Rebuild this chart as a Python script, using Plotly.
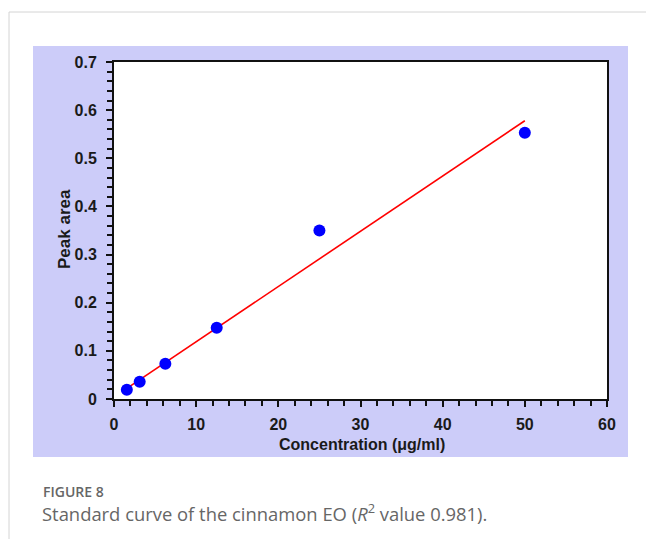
import plotly.graph_objects as go

# Data
conc = [1.5625, 3.125, 6.25, 12.5, 25, 50]
peak_area = [0.019, 0.036, 0.073, 0.148, 0.350, 0.553]
fit_x = [1.5625, 50]
fit_y = [0.022, 0.578]

x_ticks = [0, 10, 20, 30, 40, 50, 60]
x_tick_labels = ["0", "10", "20", "30", "40", "50", "60"]
y_ticks = [0, 0.1, 0.2, 0.3, 0.4, 0.5, 0.6, 0.7]
y_tick_labels = ["0", "0.1", "0.2", "0.3", "0.4", "0.5", "0.6", "0.7"]

W, H = 646, 539
L, R, T, B = 114, 607, 62, 399  # plot area in px


def px(x):
    return (x - L) / (R - L)


def py(y):
    return (B - y) / (B - T)


fig = go.Figure()
fig.add_trace(go.Scatter(x=fit_x, y=fit_y, mode="lines",
                         line=dict(color="#ff0000", width=1.6),
                         showlegend=False, hoverinfo="skip"))
fig.add_trace(go.Scatter(x=conc, y=peak_area, mode="markers",
                         marker=dict(color="#0000ff", size=12),
                         showlegend=False))

tickfont = dict(family="Liberation Sans, Arial, sans-serif", size=16,
                color="#1a1a1a", weight="bold")

fig.update_layout(
    width=W, height=H,
    margin=dict(l=L, r=W - R, t=T, b=H - B),
    paper_bgcolor="white",
    plot_bgcolor="white",
    xaxis=dict(range=[0, 60], tickvals=x_ticks, ticktext=x_tick_labels,
               ticks="outside", ticklen=6,
               tickwidth=1.5, tickcolor="#111", showline=True, linecolor="#111",
               linewidth=2, mirror=True, showgrid=False, zeroline=False,
               tickfont=tickfont, ticklabelstandoff=4,
               minor=dict(dtick=2, ticks="outside", ticklen=5, tickwidth=1.5,
                          tickcolor="#111", showgrid=False)),
    yaxis=dict(range=[0, 0.7], tickvals=y_ticks, ticktext=y_tick_labels,
               ticks="outside", ticklen=6, tickwidth=1.5, tickcolor="#111",
               showline=True, linecolor="#111", linewidth=2, mirror=True,
               showgrid=False, zeroline=False, tickfont=tickfont,
               ticklabelstandoff=6,
               minor=dict(dtick=0.02, ticks="outside", ticklen=5, tickwidth=1.5,
                          tickcolor="#111", showgrid=False)),
    shapes=[
        dict(type="rect", xref="paper", yref="paper", layer="below",
             x0=px(33), x1=px(628), y0=py(457), y1=py(46),
             fillcolor="#ccccf9", line=dict(width=0)),
        dict(type="rect", xref="paper", yref="paper", layer="below",
             x0=0, x1=1, y0=0, y1=1, fillcolor="white", line=dict(width=0)),
        dict(type="line", xref="paper", yref="paper",
             x0=px(9), x1=px(646), y0=py(12), y1=py(12),
             line=dict(color="#d4d4d4", width=1)),
        dict(type="line", xref="paper", yref="paper",
             x0=px(9), x1=px(9), y0=py(12), y1=py(539),
             line=dict(color="#d4d4d4", width=1)),
    ],
    annotations=[
        dict(text="<b>Concentration (μg/ml)</b>", xref="paper", yref="paper",
             x=px(362), y=py(444), showarrow=False, xanchor="center", yanchor="middle",
             font=dict(family="Liberation Sans, Arial, sans-serif", size=16, color="#1a1a1a")),
        dict(text="<b>Peak area</b>", xref="paper", yref="paper",
             x=px(64), y=py(229), showarrow=False, textangle=-90,
             xanchor="center", yanchor="middle",
             font=dict(family="Liberation Sans, Arial, sans-serif", size=17, color="#1a1a1a")),
        dict(text="FIGURE 8", xref="paper", yref="paper",
             x=px(41), y=py(492), showarrow=False, xanchor="left", yanchor="middle",
             font=dict(family="Open Sans, sans-serif", size=14, color="#666666", weight=600)),
        dict(text="Standard curve of the cinnamon EO (<i>R</i><sup>2</sup> value 0.981).",
             xref="paper", yref="paper",
             x=px(40), y=py(512), showarrow=False, xanchor="left", yanchor="middle",
             font=dict(family="Open Sans, sans-serif", size=18.4, color="#666666")),
    ],
)

fig.write_html("out.html")
